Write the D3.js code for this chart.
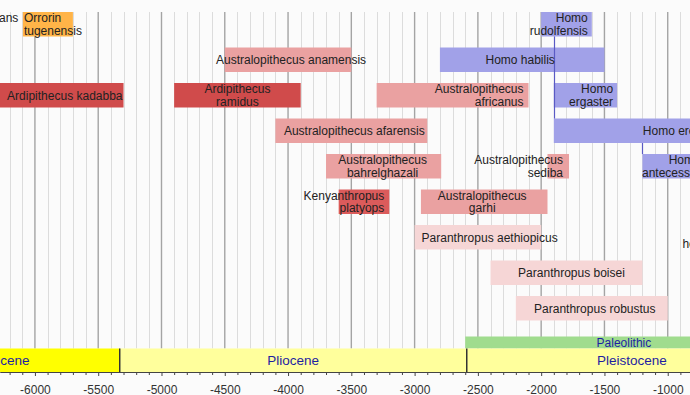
<!DOCTYPE html>
<html>
<head>
<meta charset="utf-8">
<script src="https://cdn.jsdelivr.net/npm/d3@7"></script>
<style>
  body { margin: 0; background: #fbfbfb; }
  svg { display: block; font-family: "Liberation Sans", Arial, sans-serif; }
  .spLabel { font-size: 12px; fill: #222; }
  .epochLabel { font-size: 13.5px; fill: #1e1ea2; }
  .axis text { font-size: 12px; fill: #333; font-family: "Liberation Sans", Arial, sans-serif; }
  .axis line, .axis path { stroke: #444; }
</style>
</head>
<body>
<div id="timeline-container"></div>
<script>

/* species bars, years (thousands, negative = ago) */
var speciesNames = [
  "Orrorin~tugenensis", "Homo~rudolfensis",
  "Australopithecus anamensis", "Homo habilis",
  "Ardipithecus kadabba", "Ardipithecus~ramidus", "Australopithecus~africanus", "Homo~ergaster",
  "Australopithecus afarensis", "Homo erectus",
  "Australopithecus~bahrelghazali", "Australopithecus~sediba", "Homo~antecessor",
  "Kenyanthropus~platyops", "Australopithecus~garhi",
  "Paranthropus aethiopicus", "Homo~heidelbergensis",
  "Paranthropus boisei",
  "Paranthropus robustus"
]
var speciesStart = [-6095, -2000, -4500, -2800, -6320, -4900, -3300, -1900, -4100, -1900,
                    -3700, -1950, -1200, -3600, -2950, -3000, -800, -2400, -2200]
var speciesEnd   = [-5700, -1600, -3500, -1500, -5300, -3900, -2100, -1400, -2900, -570,
                    -2790, -1780, -700, -3200, -1950, -2000, -180, -1200, -1000]
var speciesGroup = ["orrorin", "homo", "austral", "homo", "ardi", "ardi", "austral", "homo", "austral", "homo",
                    "austral", "austral", "homo", "kenya", "austral", "paran", "homo", "paran", "paran"]
var speciesRow   = [0, 0, 1, 1, 2, 2, 2, 2, 3, 3, 4, 4, 4, 5, 5, 6, 6, 7, 8]

/* lineage connectors: year, from row, to row */
var linkYear = [-1900, -1200]
var linkFrom = [0, 3]
var linkTo   = [3, 4]

/* geologic epochs + archaeological period */
var epochNames = ["Miocene", "Pliocene", "Pleistocene"]
var epochStart = [-7000, -5330, -2588]
var epochEnd   = [-5330, -2588, -10]
var epochLabelAt = [-6245, -3960, -1283]
var periodNames = ["Paleolithic"]
var periodStart = [-2600]
var periodEnd   = [-10]
var periodLabelAt = [-1346]

var tickYears = [-6000, -5500, -5000, -4500, -4000, -3500, -3000, -2500, -2000, -1500, -1000]

var groupColors = {
  "orrorin": "#ffb448",
  "ardi": "#d04b4b",
  "kenya": "#db5b5b",
  "austral": "#eaa1a1",
  "paran": "#f6d6d6",
  "homo": "#a1a1e8"
}
var epochColors = { "Miocene": "#ffff00", "Pliocene": "#ffff9c", "Pleistocene": "#ffff9c" }
var periodColor = "#a0dc8e"

var layout = {
  width: 690,
  height: 395,
  plotTop: 12,
  rowStep: 35.5,
  barHeight: 24.5,
  lineGap: 12.5,
  periodTop: 336.5,
  epochTop: 348.5,
  axisY: 372,
  textShift: 4.3
}

/* label placement: anchor, pixel nudge */
var labelPlace = {
  "Orrorin~tugenensis": ["start", 1],
  "Homo~rudolfensis": ["end", -4],
  "Australopithecus anamensis": ["middle", 3],
  "Homo habilis": ["middle", -2],
  "Ardipithecus kadabba": ["end", -1],
  "Ardipithecus~ramidus": ["middle", 0],
  "Australopithecus~africanus": ["end", -5],
  "Homo~ergaster": ["end", -4],
  "Australopithecus afarensis": ["middle", 3],
  "Homo erectus": ["start", 89],
  "Australopithecus~bahrelghazali": ["middle", -1],
  "Australopithecus~sediba": ["end", -6],
  "Homo~antecessor": ["end", -5],
  "Kenyanthropus~platyops": ["end", -5],
  "Australopithecus~garhi": ["middle", -2],
  "Paranthropus aethiopicus": ["start", 7],
  "Homo~heidelbergensis": ["end", -5],
  "Paranthropus boisei": ["middle", 5],
  "Paranthropus robustus": ["middle", 3]
}

var species = speciesNames.map(function(n, i) {
  return { name: n, start: speciesStart[i], end: speciesEnd[i], group: speciesGroup[i], row: speciesRow[i] }
})

var xScale = d3.scaleLinear().domain([-6276, -824]).range([0, layout.width])
var nRows = 9
var rowScale = d3.scaleBand()
  .domain(d3.range(nRows))
  .range([layout.plotTop, layout.plotTop + layout.rowStep * (nRows - 0.31)])
  .paddingInner(0.31)
  .paddingOuter(0)

var svg = d3.select("#timeline-container")
  .append("svg")
  .attr("width", layout.width)
  .attr("height", layout.height)

/* grid: minor every 100, major every 500 */
var minorYears = d3.range(-6200, -800, 100).filter(function(y) { return y % 500 !== 0 })

svg.selectAll(".minorGrid").data(minorYears).enter()
  .append("line")
  .attr("class", "minorGrid")
  .attr("x1", function(d) { return Math.round(xScale(d)) + 0.5 })
  .attr("x2", function(d) { return Math.round(xScale(d)) + 0.5 })
  .attr("y1", layout.plotTop)
  .attr("y2", layout.epochTop)
  .style("stroke", "#dcdcdc")
  .style("stroke-width", 1)

svg.selectAll(".majorGrid").data(tickYears).enter()
  .append("line")
  .attr("class", "majorGrid")
  .attr("x1", function(d) { return xScale(d) })
  .attr("x2", function(d) { return xScale(d) })
  .attr("y1", layout.plotTop)
  .attr("y2", layout.epochTop)
  .style("stroke", "#a4a4a4")
  .style("stroke-width", 1.4)

/* species bars */
svg.selectAll(".spBar").data(species).enter()
  .append("rect")
  .attr("class", "spBar")
  .attr("x", function(d) { return xScale(d.start) })
  .attr("width", function(d) { return xScale(d.end) - xScale(d.start) })
  .attr("y", function(d) { return rowScale(d.row) })
  .attr("height", rowScale.bandwidth())
  .style("fill", function(d) { return groupColors[d.group] })

/* lineage connectors */
svg.selectAll(".link").data(linkYear).enter()
  .append("line")
  .attr("class", "link")
  .attr("x1", function(d) { return Math.round(xScale(d)) + 0.5 })
  .attr("x2", function(d) { return Math.round(xScale(d)) + 0.5 })
  .attr("y1", function(d, i) { return rowScale(linkFrom[i]) + rowScale.bandwidth() })
  .attr("y2", function(d, i) { return rowScale(linkTo[i]) })
  .style("stroke", "#5a5ac4")
  .style("stroke-width", 1.2)

/* species labels */
function labelX(d) {
  var p = labelPlace[d.name]
  if (p[0] === "start") return xScale(d.start) + p[1]
  if (p[0] === "end") return xScale(d.end) + p[1]
  return (xScale(d.start) + xScale(d.end)) / 2 + p[1]
}

species.forEach(function(d) {
  var lines = d.name.split("~")
  var mid = rowScale(d.row) + rowScale.bandwidth() / 2
  var firstY = mid - (lines.length - 1) * layout.lineGap / 2
  var t = svg.append("text")
    .attr("class", "spLabel")
    .attr("text-anchor", labelPlace[d.name][0])
  lines.forEach(function(line, j) {
    t.append("tspan")
      .attr("x", labelX(d))
      .attr("y", firstY + j * layout.lineGap + layout.textShift)
      .text(line)
  })
})

/* cut-off label at far left */
svg.append("text")
  .attr("class", "spLabel")
  .attr("x", -1)
  .attr("y", rowScale(0) + rowScale.bandwidth() / 2 - layout.lineGap / 2 + layout.textShift)
  .text("ans")

/* paleolithic strip */
svg.selectAll(".period").data(periodNames).enter()
  .append("rect")
  .attr("class", "period")
  .attr("x", function(d, i) { return xScale(periodStart[i]) })
  .attr("width", function(d, i) { return xScale(periodEnd[i]) - xScale(periodStart[i]) })
  .attr("y", layout.periodTop)
  .attr("height", layout.epochTop - layout.periodTop)
  .style("fill", periodColor)

svg.selectAll(".periodLabel").data(periodNames).enter()
  .append("text")
  .attr("class", "epochLabel")
  .style("font-size", "12px")
  .attr("text-anchor", "middle")
  .attr("x", function(d, i) { return xScale(periodLabelAt[i]) })
  .attr("y", (layout.periodTop + layout.epochTop) / 2 + 4.5)
  .text(function(d) { return d })

/* epochs */
svg.selectAll(".epoch").data(epochNames).enter()
  .append("rect")
  .attr("class", "epoch")
  .attr("x", function(d, i) { return xScale(epochStart[i]) })
  .attr("width", function(d, i) { return xScale(epochEnd[i]) - xScale(epochStart[i]) })
  .attr("y", layout.epochTop)
  .attr("height", layout.axisY - layout.epochTop)
  .style("fill", function(d) { return epochColors[d] })

svg.selectAll(".epochEdge").data(epochStart.slice(1)).enter()
  .append("line")
  .attr("class", "epochEdge")
  .attr("x1", function(d) { return xScale(d) })
  .attr("x2", function(d) { return xScale(d) })
  .attr("y1", layout.epochTop)
  .attr("y2", layout.axisY)
  .style("stroke", "#333")
  .style("stroke-width", 1.5)

svg.selectAll(".epochText").data(epochNames).enter()
  .append("text")
  .attr("class", "epochLabel")
  .attr("text-anchor", "middle")
  .attr("x", function(d, i) { return xScale(epochLabelAt[i]) })
  .attr("y", (layout.epochTop + layout.axisY) / 2 + 5)
  .text(function(d) { return d })

/* axis */
svg.append("g")
  .attr("class", "axis")
  .attr("transform", "translate(0," + layout.axisY + ")")
  .call(d3.axisBottom(xScale).tickValues(minorYears).tickSize(3).tickSizeOuter(0).tickFormat(""))

svg.append("g")
  .attr("class", "axis")
  .attr("transform", "translate(0," + layout.axisY + ")")
  .call(d3.axisBottom(xScale).tickValues(tickYears).tickSize(4).tickSizeOuter(0)
    .tickPadding(9).tickFormat(function(d) { return String(d) }))

</script>
</body>
</html>
